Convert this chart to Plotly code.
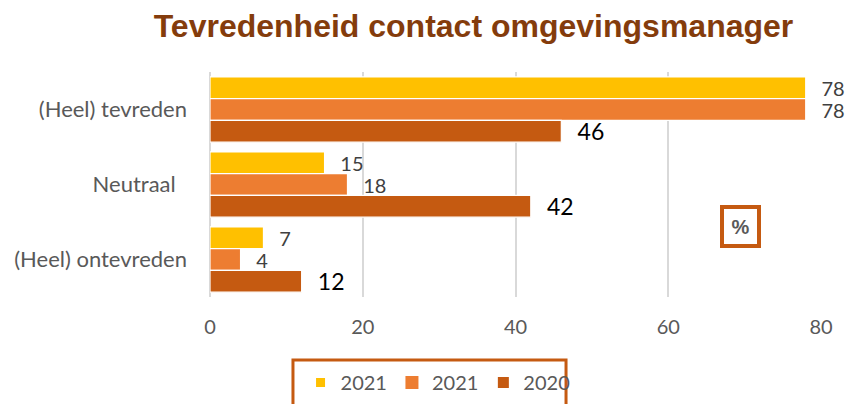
import plotly.graph_objects as go

# ---- data ----
categories = ["(Heel) tevreden", "Neutraal", "(Heel) ontevreden"]
category_ticktext = ["(Heel) tevreden", "Neutraal\u00a0\u00a0", "(Heel) ontevreden"]
series_names = ["2021", "2021", "2020"]
values_2021a = [78, 15, 7]
values_2021b = [78, 18, 4]
values_2020 = [46, 42, 12]
x_ticks = [0, 20, 40, 60, 80]

colors = ["#FFC000", "#ED7D31", "#C55A11"]
label_colors = ["#404040", "#404040", "#000000"]
label_sizes = [20, 20, 23]
label_pads = ["\u00a0\u00a0\u2009", "\u00a0\u00a0\u2009", "\u00a0\u00a0\u200a"]
legend_sizes = [9, 13, 11]
all_values = [values_2021a, values_2021b, values_2020]

FONT = "Lato"

fig = go.Figure()
for name, vals, col, lc, ls, pad in zip(series_names, all_values, colors,
                                        label_colors, label_sizes, label_pads):
    fig.add_trace(go.Bar(
        y=categories, x=vals, orientation="h", name=name,
        marker=dict(color=col, line=dict(color="white", width=1.2)),
        text=[f"{pad}{v}" for v in vals], textposition="outside",
        textfont=dict(family=FONT, size=ls, color=lc),
        constraintext="none", cliponaxis=False, showlegend=False,
    ))

# legend-only entries
for name, col, sz in zip(series_names, colors, legend_sizes):
    fig.add_trace(go.Scatter(
        x=[None], y=[None], mode="markers", name=name,
        marker=dict(symbol="square", size=sz, color=col),
        showlegend=True,
    ))

fig.update_layout(
    width=849, height=404,
    margin=dict(l=210, r=28, t=72, b=107, autoexpand=False),
    paper_bgcolor="white", plot_bgcolor="white",
    barmode="group", bargap=0.13, bargroupgap=0.0,
    title=dict(
        text="<b>Tevredenheid contact omgevingsmanager</b>",
        font=dict(family="Liberation Sans", size=32, color="#843C0C"),
        x=0.5577, xref="container", xanchor="center",
        y=0.937, yref="container", yanchor="middle",
    ),
    xaxis=dict(
        range=[0, 80], tickvals=x_ticks, showgrid=True, automargin=False,
        gridcolor="#D9D9D9", gridwidth=1.5,
        zeroline=True, zerolinecolor="#D9D9D9", zerolinewidth=1.5,
        showline=False, ticks="",
        tickfont=dict(family=FONT, size=20, color="#595959"),
        ticklabelstandoff=16,
    ),
    yaxis=dict(
        type="category", categoryarray=categories, autorange="reversed",
        tickvals=categories, ticktext=category_ticktext, automargin=False,
        showgrid=False, showline=False, ticks="",
        tickfont=dict(family=FONT, size=22, color="#595959"),
        ticklabelstandoff=22,
    ),
    legend=dict(
        orientation="h", xref="container", yref="container",
        x=0.354, xanchor="left", y=0.1015, yanchor="top",
        font=dict(family=FONT, size=20, color="#595959"),
        borderwidth=0, bgcolor="rgba(0,0,0,0)",
        itemwidth=30, itemclick=False,
    ),
    shapes=[dict(
        type="rect", xref="paper", yref="paper",
        x0=0.1358, x1=0.5827, y0=-0.28, y1=-0.53,
        line=dict(color="#C55A11", width=3), fillcolor="rgba(0,0,0,0)",
    )],
    annotations=[dict(
        text="<b>%</b>", xref="paper", yref="paper",
        x=0.868, y=0.313, xanchor="center", yanchor="middle",
        showarrow=False, font=dict(family="Liberation Sans", size=20, color="#595959"),
        bordercolor="#C55A11", borderwidth=4, borderpad=2,
        width=29, height=31, bgcolor="white",
    )],
)

fig.write_html("out.html", config={"displayModeBar": False},
               post_script="document.body.style.margin='0';")
